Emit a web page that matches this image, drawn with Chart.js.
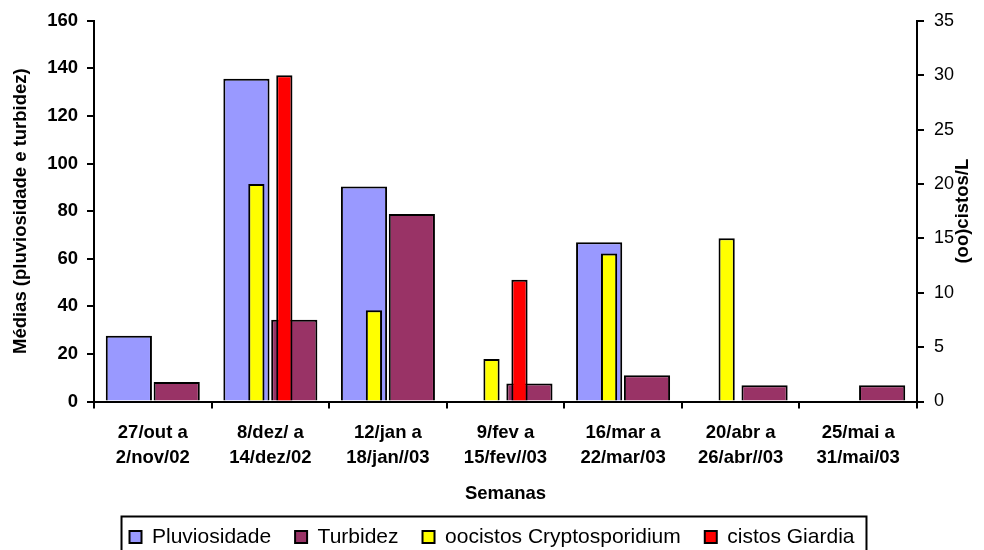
<!DOCTYPE html>
<html>
<head>
<meta charset="utf-8">
<script src="https://cdn.jsdelivr.net/npm/chart.js@4.4.1/dist/chart.umd.min.js"></script>
<style>
  html, body { margin: 0; background: #fff; }
  #wrap { width: 984px; height: 550px; position: relative; }
</style>
</head>
<body>
<div id="wrap"><canvas id="grafico"></canvas></div>
<script>
// dados
const semanas = [
    ['27/out a', '2/nov/02'],
    ['8/dez/ a', '14/dez/02'],
    ['12/jan a', '18/jan//03'],
    ['9/fev a', '15/fev//03'],
    ['16/mar a', '22/mar/03'],
    ['20/abr a', '26/abr//03'],
    ['25/mai a', '31/mai/03']
];
const pluviosidade = [27.6, 135.6, 90.4, null, 66.9, null, null];
const turbidez = [8.2, 34.4, 78.8, 7.6, 11.0, 6.8, 6.8];
const cryptosporidium = [null, 20.0, 8.4, 3.9, 13.6, 15.0, null];
const giardia = [null, 30.0, null, 11.2, null, null, null];

const escalaMedias = [0, 160, 20];
const escalaCistos = [0, 35, 5];

const fonte = '"Liberation Sans", Arial, sans-serif';
Chart.defaults.color = '#000';
Chart.defaults.font.family = fonte;

// título do eixo direito (lido de baixo para cima) e moldura da legenda
const extras = {
    id: 'extras',
    afterDraw(chart) {
        const ctx = chart.ctx;
        const area = chart.chartArea;
        ctx.save();
        ctx.font = 'bold 18.5px ' + fonte;
        ctx.fillStyle = '#000';
        ctx.textAlign = 'center';
        ctx.textBaseline = 'middle';
        ctx.translate(chart.scales.y2.right - 21, (area.top + area.bottom) / 2);
        ctx.rotate(-Math.PI / 2);
        ctx.fillText('(oo)cistos/L', 0, 0);
        ctx.restore();

        const hb = chart.legend.legendHitBoxes;
        if (!hb || !hb.length) return;
        const first = hb[0], last = hb[hb.length - 1];
        ctx.save();
        ctx.strokeStyle = '#000';
        ctx.lineWidth = 2;
        const x0 = first.left - 8, x1 = last.left + last.width + 12;
        const y0 = first.top - 10;
        ctx.strokeRect(x0, y0, x1 - x0, chart.height + 10 - y0);
        ctx.restore();
    }
};

const eixoGrid = {
    display: true,
    drawOnChartArea: false,
    color: '#000',
    tickColor: '#000',
    tickLength: 7,
    lineWidth: 2
};

// pluviosidade e cryptosporidium dividem a metade esquerda de cada semana,
// turbidez e giardia a metade direita
new Chart(document.getElementById('grafico'), {
    type: 'bar',
    data: {
        labels: semanas,
        datasets: [
            {
                label: 'Pluviosidade',
                data: pluviosidade,
                backgroundColor: '#9999FF',
                borderColor: '#000',
                borderWidth: 2,
                yAxisID: 'y',
                stack: 'esq',
                order: 1,
                categoryPercentage: 0.814,
                barPercentage: 0.965
            },
            {
                label: 'Turbidez',
                data: turbidez,
                backgroundColor: '#993366',
                borderColor: '#000',
                borderWidth: 2,
                yAxisID: 'y',
                stack: 'dir',
                order: 1,
                categoryPercentage: 0.814,
                barPercentage: 0.965
            },
            {
                label: 'oocistos Cryptosporidium',
                data: cryptosporidium,
                backgroundColor: '#FFFF00',
                borderColor: '#000',
                borderWidth: 2,
                yAxisID: 'y2',
                stack: 'esq',
                order: 0,
                categoryPercentage: 0.476,
                barPercentage: 0.58
            },
            {
                label: 'cistos Giardia',
                data: giardia,
                backgroundColor: '#FF0000',
                borderColor: '#000',
                borderWidth: 2,
                yAxisID: 'y2',
                stack: 'dir',
                order: 0,
                categoryPercentage: 0.476,
                barPercentage: 0.58
            }
        ]
    },
    options: {
        responsive: true,
        maintainAspectRatio: false,
        animation: false,
        layout: { padding: { top: 19.5, bottom: -7.5, left: 0, right: 0 } },
        plugins: {
            tooltip: { enabled: false },
            legend: {
                position: 'bottom',
                labels: {
                    boxWidth: 12,
                    boxHeight: 12,
                    padding: 24,
                    color: '#000',
                    font: { size: 21, family: fonte },
                    sort: (a, b) => a.datasetIndex - b.datasetIndex
                }
            }
        },
        scales: {
            x: {
                position: 'bottom',
                offset: true,
                grid: Object.assign({ offset: true }, eixoGrid),
                border: { display: true, color: '#000', width: 2 },
                ticks: {
                    autoSkip: false,
                    maxRotation: 0,
                    padding: 11,
                    font: { size: 18.5, weight: 'bold', lineHeight: 1.4 }
                },
                title: {
                    display: true,
                    text: 'Semanas',
                    font: { size: 18.5, weight: 'bold' },
                    padding: { top: 4, bottom: -3 }
                },
                afterFit: s => { s.height = 101; }
            },
            y: {
                position: 'left',
                stacked: false,
                min: escalaMedias[0],
                max: escalaMedias[1],
                grid: eixoGrid,
                border: { display: true, color: '#000', width: 2 },
                ticks: {
                    stepSize: escalaMedias[2],
                    padding: 9,
                    font: { size: 18.5, weight: 'bold' }
                },
                title: {
                    display: true,
                    text: 'Médias (pluviosidade e turbidez)',
                    font: { size: 18.5, weight: 'bold' },
                    padding: { top: 10, bottom: 4 }
                },
                afterFit: s => { s.width = 94; }
            },
            y2: {
                position: 'right',
                stacked: false,
                min: escalaCistos[0],
                max: escalaCistos[1],
                grid: eixoGrid,
                border: { display: true, color: '#000', width: 2 },
                ticks: {
                    stepSize: escalaCistos[2],
                    padding: 10,
                    font: { size: 18 }
                },
                afterFit: s => { s.width = 67; }
            }
        }
    },
    plugins: [extras]
});
</script>
</body>
</html>
